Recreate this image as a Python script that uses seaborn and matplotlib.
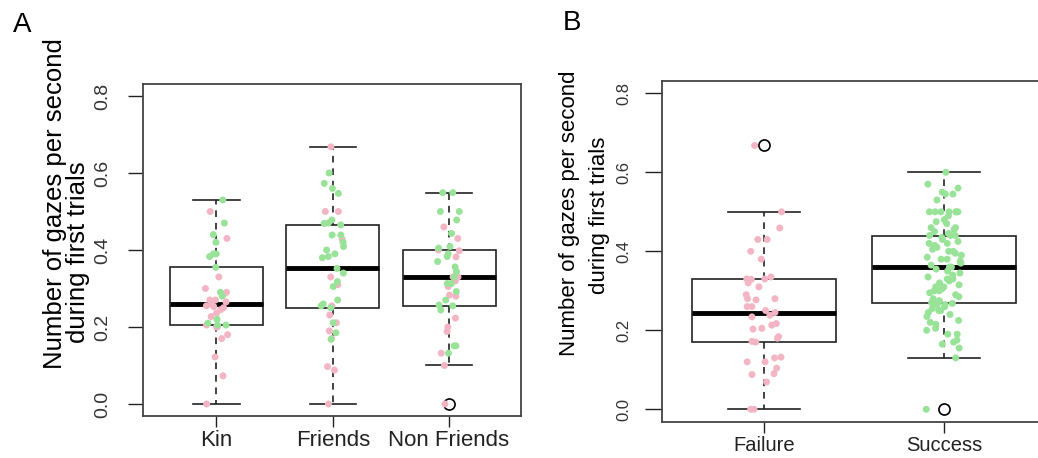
import matplotlib
matplotlib.use("Agg")
import matplotlib.pyplot as plt
import numpy as np
import pandas as pd
import seaborn as sns

plt.rcParams['font.family'] = ['Liberation Sans', 'DejaVu Sans']

##--- data: number of gazes per second during first trials

# panel A, split by outcome of the trial (pink = failure, green = success)
kin_failure = [0.0, 0.073, 0.122, 0.17, 0.18, 0.20, 0.20, 0.205, 0.227, 0.236, 0.245, 0.25,
               0.253, 0.255, 0.26, 0.265, 0.27, 0.27, 0.29, 0.30, 0.33, 0.43, 0.50]
kin_success = [0.205, 0.205, 0.21, 0.22, 0.28, 0.29, 0.355, 0.383, 0.39, 0.39, 0.42, 0.44,
               0.47, 0.53]
friends_failure = [0.0, 0.088, 0.097, 0.17, 0.19, 0.211, 0.231, 0.255, 0.31, 0.33, 0.428,
                   0.50, 0.50, 0.668]
friends_success = [0.168, 0.185, 0.211, 0.25, 0.255, 0.26, 0.27, 0.305, 0.318, 0.34, 0.352,
                   0.38, 0.383, 0.39, 0.40, 0.409, 0.42, 0.439, 0.439, 0.465, 0.469, 0.47,
                   0.478, 0.547, 0.56, 0.573, 0.60]
nonfriends_failure = [0.0, 0.10, 0.132, 0.188, 0.20, 0.223, 0.28, 0.283, 0.305, 0.32, 0.33,
                      0.33, 0.382, 0.398, 0.40, 0.43, 0.46]
nonfriends_success = [0.132, 0.151, 0.151, 0.244, 0.255, 0.257, 0.27, 0.292, 0.313, 0.313,
                      0.33, 0.344, 0.356, 0.37, 0.383, 0.39, 0.405, 0.409, 0.443, 0.478,
                      0.50, 0.50, 0.549, 0.549]

# panel B, by outcome
failure = [0.0, 0.0, 0.069, 0.088, 0.09, 0.104, 0.12, 0.12, 0.13, 0.132, 0.17,
           0.172, 0.18, 0.184, 0.203, 0.205, 0.213, 0.217, 0.234, 0.238, 0.245,
           0.25, 0.26, 0.26, 0.277, 0.28, 0.28, 0.29, 0.31, 0.32, 0.329,
           0.33, 0.33, 0.335, 0.38, 0.40, 0.43, 0.43, 0.459, 0.50, 0.668]
success = [0.0, 0.13, 0.155, 0.165, 0.17, 0.175, 0.19, 0.19, 0.20, 0.205, 0.215, 0.22,
           0.225, 0.235, 0.24, 0.245, 0.25, 0.25, 0.255, 0.26, 0.265, 0.265, 0.268, 0.27,
           0.27, 0.272, 0.275, 0.28, 0.285, 0.29, 0.295, 0.30, 0.30, 0.305, 0.31, 0.31,
           0.315, 0.32, 0.325, 0.33, 0.33, 0.335, 0.34, 0.345, 0.35, 0.355, 0.36,
           0.36, 0.36, 0.365, 0.37, 0.375, 0.38, 0.38, 0.385, 0.39, 0.395, 0.40, 0.40,
           0.405, 0.41, 0.415, 0.42, 0.42, 0.425, 0.43, 0.435, 0.44, 0.44, 0.44,
           0.445, 0.45, 0.455, 0.46, 0.46, 0.47, 0.475, 0.48, 0.49, 0.50, 0.50, 0.50,
           0.50, 0.50, 0.50, 0.50, 0.53, 0.545, 0.545, 0.55, 0.56, 0.57, 0.60]

groups_a = ["Kin", "Friends", "Non Friends"]
groups_b = ["Failure", "Success"]
colors = {"Failure": "#F3B5C4", "Success": "#98E398"}

ylabel_1 = "Number of gazes per second"
ylabel_2 = "during first trials"

##--- build tables
rows = []
for g, fail, succ in zip(groups_a, [kin_failure, friends_failure, nonfriends_failure],
                         [kin_success, friends_success, nonfriends_success]):
    rows += [(g, v, "Failure") for v in fail]
    rows += [(g, v, "Success") for v in succ]
df_a = pd.DataFrame(rows, columns=["group", "gazes", "outcome"])

rows = [("Failure", v, "Failure") for v in failure] + [("Success", v, "Success") for v in success]
df_b = pd.DataFrame(rows, columns=["group", "gazes", "outcome"])

W, H = 1038, 458
fig = plt.figure(figsize=(W / 100, H / 100), dpi=100)

def px(x0, y0, x1, y1):
    # pixel box -> figure fraction [left, bottom, width, height]
    return [x0 / W, 1 - y1 / H, (x1 - x0) / W, (y1 - y0) / H]

ax_a = fig.add_axes(px(143, 83.7, 521, 416.3))
ax_b = fig.add_axes(px(661.7, 80.7, 1046, 421.9))

np.random.seed(7)

def draw(ax, df, order, xlim, tick_font, ytick_font, ylen, ypad):
    sns.boxplot(data=df, x="group", y="gazes", order=order, ax=ax, color="white",
                linecolor="#222222", linewidth=1.2, width=0.8, whis=1.5,
                medianprops=dict(color="black", linewidth=3.5),
                whiskerprops=dict(linestyle=(0, (4, 3.5))),
                flierprops=dict(marker="o", markersize=8, markerfacecolor="none",
                                markeredgecolor="black", markeredgewidth=1.2))
    sns.stripplot(data=df, x="group", y="gazes", order=order, hue="outcome",
                  palette=colors, jitter=0.1, size=5, linewidth=0, legend=False,
                  ax=ax, zorder=3)
    ax.set_xlim(*xlim)
    ax.set_ylim(-0.032, 0.832)
    ax.set_yticks([0, 0.2, 0.4, 0.6, 0.8])
    ax.set_yticklabels(["0.0", "0.2", "0.4", "0.6", "0.8"])
    ax.set_xlabel("")
    ax.set_ylabel("")
    ax.tick_params(axis="y", length=ylen, width=1, pad=ypad, labelsize=ytick_font,
                   labelrotation=90, colors="#222222", labelcolor="#333333")
    ax.tick_params(axis="x", length=8, width=1, pad=2, labelsize=tick_font,
                   colors="#222222", labelcolor="#222222")
    for t in ax.get_yticklabels():
        t.set_va("center")
    for s in ax.spines.values():
        s.set_color("#444444")
        s.set_linewidth(1.3)

draw(ax_a, df_a, groups_a, (-0.632, 2.619), 16, 14, 11, 12)
draw(ax_b, df_b, groups_b, (-0.568, 1.568), 14.5, 12, 12, 10)

# y labels and panel letters
fig.text(55 / W, 1 - 204 / H, ylabel_1, rotation=90, ha="center", va="center", fontsize=18.5)
fig.text(78 / W, 1 - 252 / H, ylabel_2, rotation=90, ha="center", va="center", fontsize=18.5)
fig.text(570 / W, 1 - 213 / H, ylabel_1, rotation=90, ha="center", va="center", fontsize=16)
fig.text(599 / W, 1 - 215 / H, ylabel_2, rotation=90, ha="center", va="center", fontsize=16)
fig.text(22 / W, 1 - 25 / H, "A", ha="center", va="center", fontsize=20)
fig.text(572 / W, 1 - 23 / H, "B", ha="center", va="center", fontsize=20)

fig.savefig("out.png", dpi=100)
